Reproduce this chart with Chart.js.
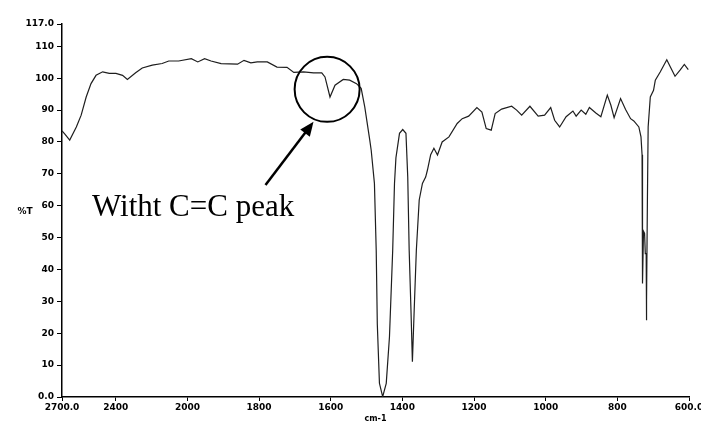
<!DOCTYPE html>
<html>
<head>
<meta charset="utf-8">
<script src="https://cdn.jsdelivr.net/npm/chart.js@4/dist/chart.umd.min.js"></script>
<style>
  html, body { margin: 0; padding: 0; background: #fff; }
  #irChart { display: block; }
</style>
</head>
<body>
<canvas id="irChart" width="701" height="424"></canvas>
<script>
/* IR spectrum, wavenumber (cm-1) vs %T */
var wavenumber = [
    2700, 2685, 2657, 2620, 2593, 2565, 2538, 2510, 2473, 2436, 2399, 2362, 2335, 2289, 2252, 2196,
    2141, 2104, 2049, 1989, 1971, 1952, 1934, 1906, 1860, 1842, 1823, 1805, 1777, 1750, 1722, 1703,
    1676, 1648, 1625, 1616, 1602, 1588, 1565, 1547, 1528, 1515, 1505, 1491, 1487, 1478, 1473, 1470,
    1464, 1455, 1445, 1436, 1427, 1422, 1418, 1408, 1399, 1390, 1385, 1381, 1376, 1372, 1367, 1361,
    1353, 1344, 1335, 1330, 1321, 1312, 1302, 1289, 1270, 1247, 1233, 1215, 1192, 1178, 1166, 1152,
    1141, 1123, 1095, 1081, 1067, 1044, 1021, 1003, 986, 975, 961, 943, 924, 915, 901, 888,
    878, 860, 846, 828, 818, 809, 791, 777, 763, 754, 740, 734, 731, 730.5, 729, 727,
    724, 722, 719.5, 719, 718, 716, 714, 708, 699, 694, 680, 662, 652, 639, 625, 613, 602
];
var transmittance = [
    83.5, 82.5, 80.6, 84.7, 88.4, 94.1, 98.3, 100.9, 102, 101.5, 101.5, 100.9, 99.6, 101.7, 103.2, 104.1,
    104.6, 105.4, 105.4, 106.1, 105.1, 106.1, 105.4, 104.6, 104.4, 105.6, 104.8, 105.1, 105.1, 103.5, 103.4, 101.8,
    102, 101.7, 101.7, 100.4, 94.1, 97.8, 99.6, 99.4, 98.3, 96.8, 91, 80.6, 77.4, 67, 46, 23,
    4.3, 0.1, 4.3, 18.9, 46, 67, 75, 82.7, 83.9, 82.7, 69, 46, 27.3, 11.1, 27.3, 46,
    61.8, 67, 69, 71.2, 76, 78, 75.9, 80, 81.6, 85.8, 87.3, 88.1, 90.8, 89.4, 84.2, 83.7,
    88.9, 90.3, 91.2, 90, 88.4, 91.2, 88.1, 88.4, 90.8, 86.8, 84.7, 87.9, 89.7, 88.1, 90, 88.7,
    90.8, 89.1, 87.9, 94.7, 91.5, 87.6, 93.6, 90.2, 87.3, 86.6, 84.7, 81.6, 76, 42.9, 35.6, 52,
    51.3, 45, 45, 24.1, 30, 62.8, 84.7, 94.1, 96.2, 99.4, 102, 105.8, 103.5, 100.6, 102.5, 104.3, 102.7
];
var xTicks = [2700, 2400, 2000, 1800, 1600, 1400, 1200, 1000, 800, 600];
var xTickLabels = ['2700.0', '2400', '2000', '1800', '1600', '1400', '1200', '1000', '800', '600.0'];
var yTicks = [0, 10, 20, 30, 40, 50, 60, 70, 80, 90, 100, 110, 117];
var yTickLabels = ['0.0', '10', '20', '30', '40', '50', '60', '70', '80', '90', '100', '110', '117.0'];

/* the axis is compressed by half above 2000 cm-1 */
function axisPos(wn) {
    return wn <= 2000 ? wn : 2000 + (wn - 2000) / 2;
}

var tickFont = { family: 'DejaVu Sans', size: 9, weight: 'bold' };

var points = wavenumber.map(function(wn, i) {
    return { x: axisPos(wn), y: transmittance[i] };
});

/* circle, arrow and label drawn on top of the plot */
var annotatePlugin = {
    id: 'annotate',
    afterDraw: function(chart) {
        var ctx = chart.ctx;
        var xs = chart.scales.x, ys = chart.scales.y;
        ctx.save();

        // circle round the C=C band
        ctx.strokeStyle = '#000';
        ctx.lineWidth = 2;
        ctx.beginPath();
        ctx.arc(xs.getPixelForValue(axisPos(1610)), ys.getPixelForValue(96.5), 32.5, 0, Math.PI * 2);
        ctx.stroke();

        // arrow
        var x0 = xs.getPixelForValue(axisPos(1782)), y0 = ys.getPixelForValue(66.5);
        var x1 = xs.getPixelForValue(axisPos(1648)), y1 = ys.getPixelForValue(86.3);
        var ang = Math.atan2(y1 - y0, x1 - x0);
        ctx.lineWidth = 2.5;
        ctx.beginPath();
        ctx.moveTo(x0, y0);
        ctx.lineTo(x1 - 10 * Math.cos(ang), y1 - 10 * Math.sin(ang));
        ctx.stroke();
        ctx.fillStyle = '#000';
        ctx.beginPath();
        ctx.moveTo(x1, y1);
        ctx.lineTo(x1 - 14 * Math.cos(ang) + 6 * Math.sin(ang), y1 - 14 * Math.sin(ang) - 6 * Math.cos(ang));
        ctx.lineTo(x1 - 14 * Math.cos(ang) - 6 * Math.sin(ang), y1 - 14 * Math.sin(ang) + 6 * Math.cos(ang));
        ctx.closePath();
        ctx.fill();

        // label
        ctx.font = '31px "Liberation Serif"';
        ctx.textAlign = 'left';
        ctx.textBaseline = 'alphabetic';
        ctx.fillText('Witht C=C peak', 92, 216);

        // horizontal y title
        ctx.font = 'bold 9px "DejaVu Sans"';
        ctx.textAlign = 'center';
        ctx.textBaseline = 'middle';
        ctx.fillText('%T', 25, 212);
        ctx.restore();
    }
};

var ctx = document.getElementById('irChart').getContext('2d');
new Chart(ctx, {
    type: 'line',
    data: {
        datasets: [{
            data: points,
            borderColor: '#1e1e1e',
            borderWidth: 1.2,
            pointRadius: 0,
            tension: 0,
            fill: false
        }]
    },
    options: {
        responsive: false,
        animation: false,
        layout: { padding: { left: 0, right: 12, top: 24, bottom: 0 } },
        plugins: {
            legend: { display: false },
            tooltip: { enabled: false }
        },
        scales: {
            x: {
                type: 'linear',
                reverse: true,
                min: axisPos(600),
                max: axisPos(2700),
                afterBuildTicks: function(scale) {
                    scale.ticks = xTicks.map(function(v) { return { value: axisPos(v) }; });
                },
                afterFit: function(scale) {
                    scale.height = 27;
                    scale.paddingLeft = 0;
                    scale.paddingRight = 0;
                },
                ticks: {
                    autoSkip: false,
                    maxRotation: 0,
                    padding: 1,
                    color: '#000',
                    font: tickFont,
                    callback: function(value, index) { return xTickLabels[index]; }
                },
                grid: { drawOnChartArea: false, drawTicks: true, tickLength: 4, color: '#000' },
                border: { display: true, color: '#000', width: 1.5 },
                title: {
                    display: true,
                    text: 'cm-1',
                    color: '#000',
                    font: { family: 'DejaVu Sans', size: 8, weight: 'bold' },
                    padding: { top: -1, bottom: 0 }
                }
            },
            y: {
                min: 0,
                max: 117,
                afterBuildTicks: function(scale) {
                    scale.ticks = yTicks.map(function(v) { return { value: v }; });
                },
                afterFit: function(scale) {
                    scale.width = 62;
                    scale.paddingTop = 0;
                    scale.paddingBottom = 0;
                },
                ticks: {
                    autoSkip: false,
                    padding: 3,
                    color: '#000',
                    font: tickFont,
                    callback: function(value, index) { return yTickLabels[index]; }
                },
                grid: { drawOnChartArea: false, drawTicks: true, tickLength: 5, color: '#000' },
                border: { display: true, color: '#000', width: 1.5 }
            }
        }
    },
    plugins: [annotatePlugin]
});
</script>
</body>
</html>
